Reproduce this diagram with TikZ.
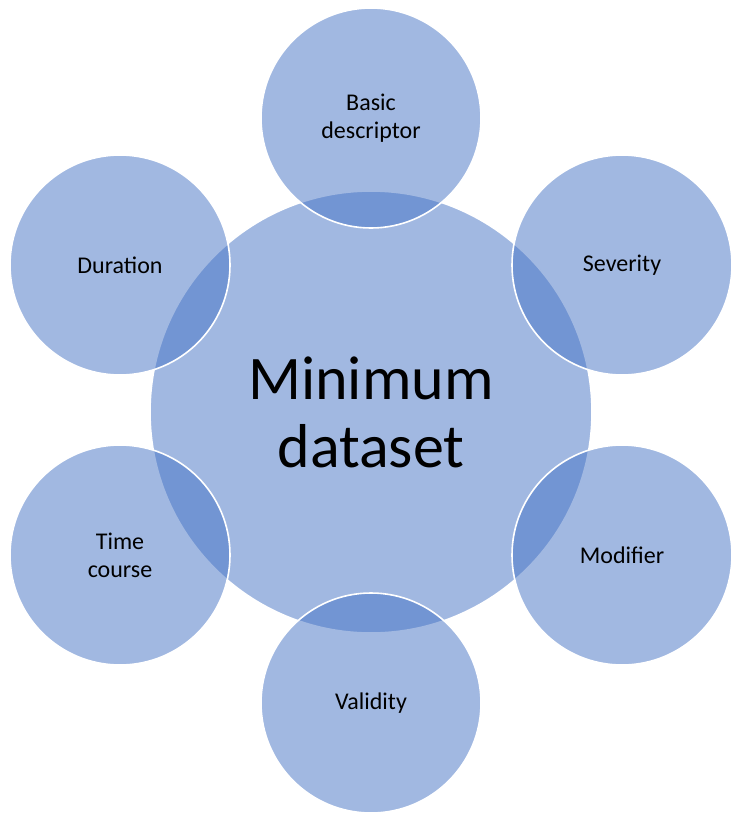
\documentclass[tikz,border=0pt]{standalone}
\usepackage{fontspec}
\setmainfont{Carlito}
\usetikzlibrary{positioning}
\definecolor{hubblue}{HTML}{4472C4}

\begin{document}
\begin{tikzpicture}[x=1pt, y=-1pt]
      \tikzset{
        bubble/.style = {
          circle,
          draw=white,
          line width=1.6pt,
          fill=hubblue,
          fill opacity=0.5,
          text opacity=1,
          minimum size=220pt,
          align=center,
          font=\fontsize{24}{28}\selectfont
        },
        hub/.style = {
          bubble,
          minimum size=442pt,
          font=\fontsize{62}{72}\selectfont
        }
      }
      \useasboundingbox (0,0) rectangle (740,822);

      \node[hub] (dataset) at (371,412) {Minimum\\[-4pt]dataset};

      \node[bubble] (basic) at (371,118) {Basic\\descriptor};
      \node[bubble] (severity) at (622,265) {Severity};
      \node[bubble] (modifier) at (622,555) {Modifier};
      \node[bubble] (validity) at (371,703) {Validity};
      \node[bubble] (timecourse) at (120,555) {Time\\course};
      \node[bubble] (duration) at (120,265) {Duration};
\end{tikzpicture}
\end{document}
